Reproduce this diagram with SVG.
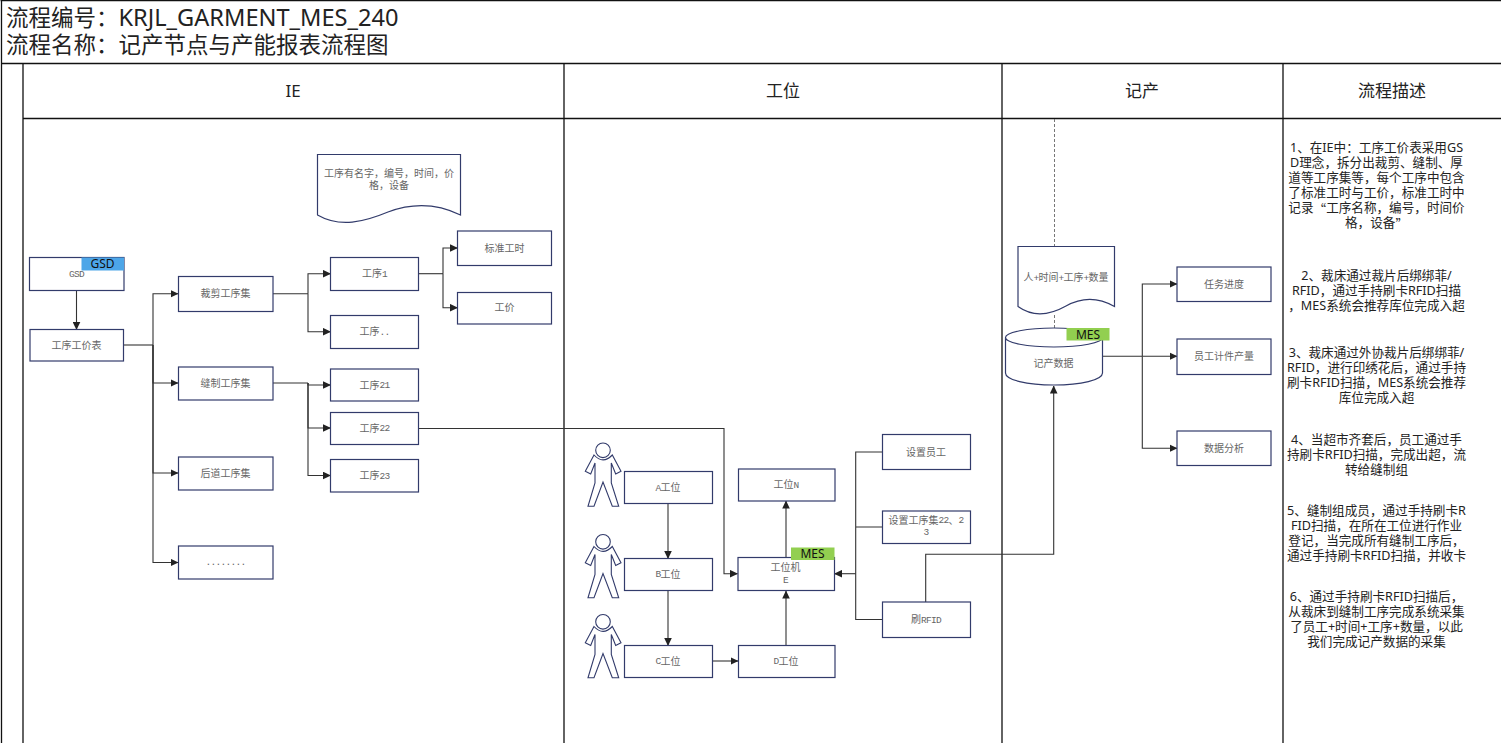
<svg xmlns="http://www.w3.org/2000/svg" width="1501" height="743" viewBox="0 0 1501 743">
<style>
text{font-family:"Liberation Serif","Noto Sans CJK SC",serif;font-size:10px;fill:#666;text-anchor:middle;dominant-baseline:central}
.m{font-family:"Liberation Mono",monospace;font-size:9.5px;letter-spacing:-0.7px}
.t{font-family:"Noto Sans","Noto Sans CJK SC",sans-serif;font-size:22.5px;fill:#222;text-anchor:start}
.l{font-size:23.6px}
.h{font-family:"Noto Sans","Noto Sans CJK SC",sans-serif;font-size:17px;fill:#222}
.d{font-family:"Noto Sans","Noto Sans CJK SC",sans-serif;font-size:12.6px;fill:#222}
.q{font-family:"Noto Sans CJK SC",sans-serif}
.g{font-family:"Noto Sans","Noto Sans CJK SC",sans-serif;font-size:12px;fill:#111}
.b{fill:#fff;stroke:#323b6b;stroke-width:1.2}
.f{fill:none;stroke:#111;stroke-width:1.3}
.c{fill:none;stroke:#333;stroke-width:1.1}
.a{fill:none;stroke:#333;stroke-width:1.1;marker-end:url(#arr)}
</style>
<defs>
<marker id="arr" markerUnits="userSpaceOnUse" markerWidth="8" markerHeight="8" refX="7.5" refY="4" orient="auto"><path d="M0,0.2L8,4L0,7.8Z" fill="#222"/></marker>
<g id="person" fill="#fff" stroke="#323b6b" stroke-width="1.1">
<circle cx="0" cy="7.3" r="7.3"/>
<path d="M-9,12L-17.7,28.3L-12.3,31L-8,20L-8,40L-15,63.3L-9,63.3L0,39L9.3,63.3L15.7,63.3L8.3,40L8.3,20L12.7,31L18,28.3L9.3,12Q0,21.7-9,12Z"/>
</g>
</defs>
<g id="frame">
<path class="f" d="M0.5,0.5H1501M1.5,0V743M1,63.5H1501M23,63.5V743M23,118.5H1501M564,63.5V743M1002,63.5V743M1283,63.5V743"/>
<text class="t" x="6" y="17">流程编号&#xFF1A;<tspan class="l">KRJL_GARMENT_MES_240</tspan></text>
<text class="t" x="6" y="44">流程名称&#xFF1A;记产节点与产能报表流程图</text>
<text class="h" x="293" y="90">IE</text>
<text class="h" x="783" y="90">工位</text>
<text class="h" x="1142" y="90">记产</text>
<text class="h" x="1392" y="90">流程描述</text>
</g>
<g id="connectors">
<path d="M1054.5,119V246M1054.5,315V328" fill="none" stroke="#777" stroke-width="1" stroke-dasharray="3 2"/>
<path class="a" d="M76.5,291V329.5"/>
<path class="c" d="M123,345H153"/>
<path class="a" d="M153,345V293.7H178"/>
<path class="a" d="M153,345V383H178"/>
<path class="a" d="M153,345V473H178"/>
<path class="a" d="M153,345V562.5H178"/>
<path class="c" d="M273,293.7H308"/>
<path class="a" d="M308,293.7V273.7H330.5"/>
<path class="a" d="M308,293.7V331.7H330.5"/>
<path class="c" d="M273,383H308"/>
<path class="a" d="M308,383V385H330.5"/>
<path class="a" d="M308,383V428H330.5"/>
<path class="a" d="M308,383V475.5H330.5"/>
<path class="c" d="M418.5,273.7H443"/>
<path class="a" d="M443,273.7V248H457.5"/>
<path class="a" d="M443,273.7V307.7H457.5"/>
<path class="a" d="M419,428.5H724V573.7H737.5"/>
<path class="a" d="M668,503.5V558.5"/>
<path class="a" d="M668,590.5V645.5"/>
<path class="a" d="M712.5,661H738"/>
<path class="a" d="M786,645.5V591"/>
<path class="a" d="M786,557.5V501"/>
<path class="c" d="M882,452H855.7V619.5H882M882,527H855.7"/>
<path class="a" d="M855.7,573.7H834.5"/>
<path class="a" d="M925.7,602V554.3H1053.7V386"/>
<path class="c" d="M1102,356.3H1142.3"/>
<path class="a" d="M1142.3,356.3V284H1177"/>
<path class="a" d="M1142.3,356.3H1177"/>
<path class="a" d="M1142.3,356.3V448.3H1177"/>
</g>
<g id="doc1"><path class="b" d="M317.5,154.5H460.5V215C436,203 412,203 388,212C364,222 340,228 317.5,215Z"/><text x="389" y="173">工序有名字&#xFF0C;编号&#xFF0C;时间&#xFF0C;价</text><text x="389" y="185.5">格&#xFF0C;设备</text></g>
<g id="gsd"><rect class="b" x="29.5" y="257.5" width="94.5" height="33"/><text class="m" x="76.5" y="274">GSD</text><rect x="81.5" y="257.5" width="42.5" height="13" fill="#4da6e8"/><text class="g" x="102.5" y="263.5">GSD</text></g>
<g id="n-table"><rect class="b" x="30" y="329.5" width="93.5" height="31.5"/><text x="76.5" y="345">工序工价表</text></g>
<g id="n-cut"><rect class="b" x="178.5" y="276.5" width="94.5" height="35"/><text x="225.5" y="293.5">裁剪工序集</text></g>
<g id="n-sew"><rect class="b" x="178.5" y="367" width="94.5" height="33"/><text x="225.5" y="383">缝制工序集</text></g>
<g id="n-back"><rect class="b" x="178.5" y="457" width="94.5" height="33"/><text x="225.5" y="473">后道工序集</text></g>
<g id="n-more"><rect class="b" x="178.5" y="546" width="94.5" height="33"/><text class="m" x="225.5" y="562.5">........</text></g>
<g id="n-op1"><rect class="b" x="330.5" y="257.5" width="88" height="33"/><text x="374.5" y="273.5">工序<tspan class="m">1</tspan></text></g>
<g id="n-opx"><rect class="b" x="330.5" y="315.5" width="88" height="33"/><text x="374.5" y="331.5">工序<tspan class="m">..</tspan></text></g>
<g id="n-op21"><rect class="b" x="330.5" y="369" width="88" height="32"/><text x="374.5" y="385">工序<tspan class="m">21</tspan></text></g>
<g id="n-op22"><rect class="b" x="330.5" y="412.5" width="88" height="32"/><text x="374.5" y="428">工序<tspan class="m">22</tspan></text></g>
<g id="n-op23"><rect class="b" x="330.5" y="459.5" width="88" height="32.5"/><text x="374.5" y="475.5">工序<tspan class="m">23</tspan></text></g>
<g id="n-std"><rect class="b" x="457.5" y="231" width="94" height="34.5"/><text x="504.5" y="248">标准工时</text></g>
<g id="n-price"><rect class="b" x="457.5" y="292.5" width="94" height="31.5"/><text x="504.5" y="307.5">工价</text></g>
<g id="person-a"><use href="#person" x="603" y="443"/></g>
<g id="person-b"><use href="#person" x="603" y="534.5"/></g>
<g id="person-c"><use href="#person" x="603" y="614.5"/></g>
<g id="n-a"><rect class="b" x="624.5" y="471.5" width="88" height="32"/><text x="668" y="487.5"><tspan class="m">A</tspan>工位</text></g>
<g id="n-b"><rect class="b" x="624.5" y="558.5" width="88" height="32"/><text x="668" y="574"><tspan class="m">B</tspan>工位</text></g>
<g id="n-c"><rect class="b" x="624.5" y="645.5" width="88" height="32"/><text x="668" y="661"><tspan class="m">C</tspan>工位</text></g>
<g id="n-d"><rect class="b" x="738.5" y="645.5" width="96.5" height="32"/><text x="786" y="661"><tspan class="m">D</tspan>工位</text></g>
<g id="n-n"><rect class="b" x="738.5" y="469" width="96.5" height="32"/><text x="786" y="484.5">工位<tspan class="m">N</tspan></text></g>
<g id="n-e"><rect class="b" x="738" y="557.5" width="96.5" height="33"/><text x="785.5" y="567">工位机</text><text class="m" x="785.5" y="580">E</text><rect x="791" y="547.5" width="43.5" height="12.5" fill="#92cf50"/><text class="g" x="812.5" y="553.5">MES</text></g>
<g id="n-emp"><rect class="b" x="882.5" y="434.5" width="88" height="35"/><text x="926" y="452">设置员工</text></g>
<g id="n-setop"><rect class="b" x="882.5" y="511" width="88" height="32.5"/><text x="926" y="520">设置工序集<tspan class="m">22</tspan>、<tspan class="m">2</tspan></text><text class="m" x="926" y="532.5">3</text></g>
<g id="n-rfid"><rect class="b" x="882.5" y="602" width="88" height="35.5"/><text x="926" y="619.5">刷<tspan class="m">RFID</tspan></text></g>
<g id="doc2"><path class="b" d="M1018,246.5H1114.5V306.5C1098,297 1082,297 1066,306C1050,315 1034,318 1018,306.5Z"/><text x="1066" y="277.5">人<tspan class="m">+</tspan>时间<tspan class="m">+</tspan>工序<tspan class="m">+</tspan>数量</text></g>
<g id="db"><path class="b" d="M1005.5,337.5V373C1005.5,380 1027,385 1054,385C1081,385 1102.5,380 1102.5,373V337.5"/><ellipse class="b" cx="1054" cy="337.5" rx="48.5" ry="9.5"/><text x="1053.5" y="363">记产数据</text><rect x="1066.5" y="328" width="43" height="12.5" fill="#92cf50"/><text class="g" x="1088" y="334">MES</text></g>
<g id="n-task"><rect class="b" x="1177" y="267" width="94" height="34.5"/><text x="1224" y="284">任务进度</text></g>
<g id="n-output"><rect class="b" x="1177" y="339" width="94" height="35.5"/><text x="1224" y="356">员工计件产量</text></g>
<g id="n-analysis"><rect class="b" x="1177" y="431" width="94" height="34.5"/><text x="1224" y="448">数据分析</text></g>
<g id="desc">
<text class="d" x="1376.5" y="147.5">1、在IE中&#xFF1A;工序工价表采用GS</text>
<text class="d" x="1376.5" y="162.5">D理念&#xFF0C;拆分出裁剪、缝制、厚</text>
<text class="d" x="1376.5" y="177.5">道等工序集等&#xFF0C;每个工序中包含</text>
<text class="d" x="1376.5" y="192.5">了标准工时与工价&#xFF0C;标准工时中</text>
<text class="d" x="1376.5" y="207.5">记录<tspan class="q">&#x201C;</tspan>工序名称&#xFF0C;编号&#xFF0C;时间价</text>
<text class="d" x="1376.5" y="222.5">格&#xFF0C;设备<tspan class="q">&#x201D;</tspan></text>
<text class="d" x="1376.5" y="275">2、裁床通过裁片后绑绑菲/</text>
<text class="d" x="1376.5" y="290">RFID&#xFF0C;通过手持刷卡RFID扫描</text>
<text class="d" x="1376.5" y="305">&#xFF0C;MES系统会推荐库位完成入超</text>
<text class="d" x="1376.5" y="352">3、裁床通过外协裁片后绑绑菲/</text>
<text class="d" x="1376.5" y="367">RFID&#xFF0C;进行印绣花后&#xFF0C;通过手持</text>
<text class="d" x="1376.5" y="382">刷卡RFID扫描&#xFF0C;MES系统会推荐</text>
<text class="d" x="1376.5" y="397">库位完成入超</text>
<text class="d" x="1376.5" y="439">4、当超市齐套后&#xFF0C;员工通过手</text>
<text class="d" x="1376.5" y="454">持刷卡RFID扫描&#xFF0C;完成出超&#xFF0C;流</text>
<text class="d" x="1376.5" y="469">转给缝制组</text>
<text class="d" x="1376.5" y="510.5">5、缝制组成员&#xFF0C;通过手持刷卡R</text>
<text class="d" x="1376.5" y="525.5">FID扫描&#xFF0C;在所在工位进行作业</text>
<text class="d" x="1376.5" y="540.5">登记&#xFF0C;当完成所有缝制工序后&#xFF0C;</text>
<text class="d" x="1376.5" y="555.5">通过手持刷卡RFID扫描&#xFF0C;并收卡</text>
<text class="d" x="1376.5" y="596">6、通过手持刷卡RFID扫描后&#xFF0C;</text>
<text class="d" x="1376.5" y="611">从裁床到缝制工序完成系统采集</text>
<text class="d" x="1376.5" y="626">了员工+时间+工序+数量&#xFF0C;以此</text>
<text class="d" x="1376.5" y="641">我们完成记产数据的采集</text>
</g>
</svg>
